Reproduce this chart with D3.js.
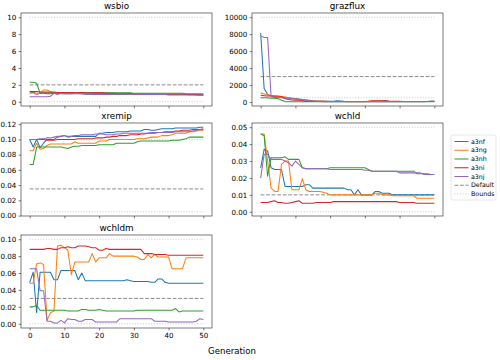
<!DOCTYPE html>
<html>
<head>
<meta charset="utf-8">
<script src="https://cdn.jsdelivr.net/npm/d3@7"></script>
<style>
  body { margin: 0; background: #fff; }
  text { font-family: "DejaVu Sans", sans-serif; fill: #000; }
</style>
</head>
<body>
<svg id="chart" width="500" height="360"></svg>
<script>
// runs (legend order) and generations 0..50
const runs = ["a3nf", "a3ng", "a3nh", "a3ni", "a3nj"];
const colors = ["#1f77b4", "#ff7f0e", "#2ca02c", "#d62728", "#9467bd"];
const params = ["wsbio", "grazflux", "xremip", "wchld", "wchldm"];

// one array per run, in the order of runs
const wsbio = [
  [1.0,1.1,0.9,1.0,1.0,0.95,0.95,1.0,1.0,0.95, 0.95,0.95,0.95,0.95,0.95,0.95,0.9,0.9,0.9,0.9, 0.9,0.9,0.9,0.9,0.9,0.9,0.9,0.9,0.9,0.9, 0.9,0.9,0.88,0.88,0.88,0.88,0.85,0.85,0.85,0.85, 0.85,0.85,0.85,0.85,0.85,0.85,0.82,0.82,0.8,0.8, 0.8],
  [1.2,1.2,0.9,1.0,1.4,1.4,1.2,1.05,1.05,1.05, 1.05,1.05,1.05,1.05,1.05,1.0,1.0,1.0,1.0,1.0, 1.0,1.0,1.0,0.95,0.95,0.95,0.95,0.95,0.95,0.95, 0.9,0.9,0.9,0.9,0.9,0.9,0.9,0.9,0.9,0.9, 0.88,0.88,0.88,0.88,0.85,0.85,0.85,0.85,0.85,0.85, 0.85],
  [2.3,2.3,2.2,1.0,1.05,1.05,1.05,1.05,1.05,1.1, 1.1,1.1,1.1,1.1,1.1,1.05,1.05,1.05,1.05,1.05, 1.05,1.05,1.05,1.05,1.05,1.05,1.05,1.05,1.05,1.05, 1.0,1.0,1.0,1.0,1.0,1.0,1.0,1.0,1.0,1.0, 1.0,1.0,1.0,1.0,1.0,0.95,0.95,0.95,0.95,0.95, 0.95],
  [1.2,1.2,1.2,1.15,1.15,1.15,1.15,1.15,1.1,1.1, 1.1,1.1,1.1,1.1,1.1,1.1,1.05,1.05,1.05,1.05, 1.05,1.05,1.0,1.0,1.0,0.95,0.95,0.95,0.95,0.95, 0.9,0.9,0.9,0.9,0.9,0.9,0.9,0.9,0.9,0.9, 0.88,0.88,0.88,0.88,0.88,0.85,0.85,0.85,0.85,0.8, 0.8],
  [0.6,0.6,0.6,0.6,0.6,0.6,0.65,1.0,0.85,1.0, 0.95,0.95,0.95,1.0,1.0,0.95,0.95,0.95,0.85,0.85, 0.85,0.85,0.85,0.85,0.9,0.9,0.9,0.9,0.9,0.9, 0.9,0.9,0.85,0.85,0.85,0.85,0.85,0.85,0.85,0.85, 0.8,0.8,0.8,0.8,0.8,0.8,0.8,0.8,0.8,0.8, 0.8]
];
const grazflux = [
  [8100,1600,900,750,650,600,600,550,500,450, 400,350,300,250,200,150,120,100,80,80, 80,100,150,120,80,60,60,60,60,60, 60,60,60,60,60,120,150,100,60,60, 60,60,60,60,60,60,60,60,60,80, 100],
  [1050,950,850,750,700,650,650,600,500,400, 350,300,250,200,150,120,100,80,80,80, 60,60,60,60,60,50,50,50,50,50, 50,80,100,100,80,60,60,60,60,60, 60,60,60,60,60,60,60,60,60,60, 60],
  [500,500,500,450,450,400,200,50,30,30, 30,30,30,30,30,30,30,30,30,30, 30,30,30,30,30,30,30,30,30,30, 30,30,30,30,30,30,30,30,30,30, 30,30,30,30,30,30,30,30,30,30, 30],
  [800,750,700,700,700,700,650,400,300,250, 200,200,150,100,100,80,80,80,80,60, 60,60,60,60,60,60,60,60,60,60, 60,100,150,150,150,150,150,100,100,80, 80,60,60,60,60,60,60,60,60,60, 60],
  [7800,7600,7600,600,550,500,500,450,450,400, 350,300,250,200,150,100,80,60,50,50, 50,50,50,50,50,50,50,50,50,50, 50,50,50,50,50,50,50,50,50,50, 50,50,50,50,50,50,50,50,60,100, 120]
];
const xremip = [
  [0.1,0.09,0.1,0.089,0.095,0.1,0.1,0.1,0.103,0.104, 0.105,0.103,0.104,0.104,0.104,0.104,0.104,0.104,0.104,0.104, 0.108,0.108,0.109,0.109,0.109,0.11,0.11,0.11,0.11,0.111, 0.111,0.111,0.111,0.113,0.113,0.112,0.112,0.113,0.114,0.114, 0.114,0.114,0.115,0.115,0.115,0.115,0.115,0.115,0.115,0.116, 0.116],
  [0.085,0.085,0.095,0.087,0.088,0.092,0.094,0.094,0.094,0.094, 0.094,0.094,0.094,0.097,0.095,0.095,0.095,0.095,0.095,0.095, 0.098,0.098,0.098,0.1,0.1,0.1,0.1,0.1,0.1,0.1, 0.1,0.101,0.101,0.101,0.102,0.103,0.103,0.103,0.105,0.105, 0.105,0.106,0.108,0.108,0.108,0.108,0.11,0.11,0.111,0.112, 0.112],
  [0.067,0.067,0.09,0.09,0.09,0.09,0.09,0.09,0.09,0.09, 0.089,0.088,0.09,0.091,0.091,0.092,0.092,0.092,0.092,0.092, 0.093,0.093,0.093,0.093,0.093,0.095,0.095,0.095,0.095,0.095, 0.095,0.097,0.098,0.098,0.098,0.098,0.098,0.098,0.098,0.098, 0.098,0.099,0.099,0.099,0.1,0.101,0.103,0.103,0.103,0.103, 0.103],
  [0.1,0.1,0.1,0.1,0.1,0.099,0.099,0.099,0.1,0.1, 0.1,0.1,0.1,0.1,0.101,0.101,0.101,0.101,0.101,0.102, 0.102,0.102,0.103,0.103,0.104,0.104,0.105,0.105,0.105,0.106, 0.106,0.106,0.107,0.107,0.108,0.108,0.108,0.109,0.109,0.11, 0.11,0.11,0.111,0.111,0.112,0.112,0.112,0.113,0.113,0.113, 0.113],
  [0.1,0.1,0.1,0.101,0.101,0.102,0.102,0.103,0.104,0.104, 0.105,0.104,0.104,0.105,0.105,0.106,0.106,0.106,0.106,0.107, 0.107,0.107,0.106,0.106,0.106,0.107,0.107,0.108,0.108,0.108, 0.108,0.108,0.108,0.108,0.108,0.109,0.109,0.109,0.109,0.109, 0.109,0.109,0.11,0.11,0.11,0.11,0.11,0.111,0.112,0.113, 0.114]
];
const wchld = [
  [0.026,0.037,0.036,0.026,0.025,0.025,0.025,0.015,0.015,0.015, 0.015,0.015,0.015,0.016,0.016,0.014,0.014,0.014,0.014,0.014, 0.014,0.014,0.014,0.014,0.014,0.013,0.013,0.010,0.013,0.010, 0.010,0.010,0.010,0.012,0.012,0.011,0.011,0.011,0.010,0.010, 0.010,0.010,0.010,0.010,0.010,0.010,0.010,0.010,0.010,0.010, 0.010],
  [0.046,0.046,0.030,0.014,0.012,0.012,0.028,0.030,0.030,0.013, 0.013,0.013,0.0196,0.013,0.012,0.012,0.012,0.012,0.0115,0.011, 0.010,0.010,0.010,0.010,0.010,0.010,0.010,0.010,0.010,0.010, 0.010,0.010,0.010,0.011,0.011,0.010,0.010,0.010,0.0095,0.0095, 0.0095,0.0095,0.0095,0.0095,0.0095,0.008,0.008,0.008,0.008,0.008, 0.008],
  [0.046,0.045,0.021,0.032,0.032,0.032,0.032,0.0325,0.031,0.031, 0.031,0.031,0.026,0.0255,0.0255,0.0255,0.0255,0.0255,0.0255,0.0255, 0.026,0.026,0.026,0.026,0.026,0.026,0.026,0.026,0.026,0.026, 0.026,0.025,0.024,0.024,0.024,0.024,0.024,0.024,0.024,0.024, 0.024,0.024,0.024,0.024,0.024,0.0225,0.0225,0.0225,0.0225,0.022, 0.022],
  [0.0055,0.0055,0.0055,0.006,0.0065,0.0055,0.0055,0.005,0.005,0.0055, 0.006,0.0065,0.005,0.005,0.005,0.005,0.0055,0.0055,0.0055,0.0055, 0.0055,0.006,0.006,0.006,0.006,0.006,0.006,0.006,0.006,0.006, 0.006,0.006,0.006,0.006,0.006,0.006,0.006,0.006,0.006,0.006, 0.0055,0.0055,0.0055,0.0055,0.0055,0.005,0.005,0.005,0.005,0.005, 0.005],
  [0.020,0.034,0.034,0.031,0.031,0.031,0.031,0.030,0.029,0.027, 0.030,0.028,0.026,0.0255,0.0255,0.0255,0.0255,0.0255,0.0255,0.0255, 0.025,0.025,0.025,0.025,0.025,0.025,0.025,0.025,0.025,0.025, 0.0245,0.0245,0.024,0.024,0.024,0.024,0.024,0.024,0.024,0.024, 0.023,0.023,0.023,0.023,0.023,0.023,0.023,0.022,0.022,0.022, 0.022]
];
const wchldm = [
  [0.0486,0.061,0.013,0.061,0.061,0.061,0.061,0.052,0.052,0.063, 0.063,0.063,0.063,0.063,0.052,0.060,0.051,0.051,0.051,0.051, 0.051,0.051,0.051,0.051,0.051,0.051,0.051,0.051,0.052,0.051, 0.050,0.050,0.050,0.050,0.050,0.049,0.049,0.053,0.053,0.049, 0.048,0.048,0.048,0.048,0.048,0.048,0.048,0.048,0.048,0.048, 0.048],
  [0.048,0.048,0.071,0.072,0.070,0.004,0.013,0.015,0.092,0.093, 0.090,0.087,0.058,0.073,0.073,0.073,0.073,0.073,0.083,0.073, 0.078,0.078,0.078,0.083,0.080,0.080,0.080,0.080,0.080,0.080, 0.080,0.079,0.076,0.076,0.082,0.078,0.082,0.079,0.079,0.079, 0.079,0.065,0.065,0.065,0.065,0.078,0.078,0.078,0.078,0.078, 0.078],
  [0.020,0.020,0.022,0.016,0.016,0.016,0.016,0.016,0.016,0.016, 0.016,0.015,0.015,0.015,0.015,0.017,0.017,0.016,0.016,0.016, 0.017,0.016,0.015,0.015,0.015,0.015,0.015,0.015,0.015,0.015, 0.015,0.016,0.016,0.016,0.016,0.016,0.016,0.016,0.016,0.016, 0.016,0.016,0.018,0.014,0.015,0.015,0.015,0.015,0.015,0.015, 0.015],
  [0.088,0.088,0.088,0.088,0.088,0.089,0.089,0.088,0.088,0.090, 0.090,0.091,0.090,0.090,0.092,0.092,0.092,0.091,0.090,0.090, 0.087,0.087,0.089,0.088,0.088,0.088,0.088,0.088,0.088,0.088, 0.088,0.088,0.088,0.083,0.083,0.083,0.082,0.082,0.082,0.082, 0.081,0.081,0.081,0.081,0.081,0.081,0.081,0.081,0.081,0.081, 0.081],
  [0.065,0.065,0.065,0.039,0.039,0.003,0.003,0.001,0.001,0.004, 0.001,0.006,0.005,0.005,0.003,0.003,0.005,0.005,0.005,0.002, 0.002,0.002,0.002,0.002,0.002,0.002,0.006,0.006,0.006,0.006, 0.006,0.006,0.006,0.006,0.006,0.006,0.003,0.003,0.003,0.003, 0.002,0.002,0.002,0.002,0.002,0.002,0.002,0.002,0.003,0.006, 0.005]
];

const defaults = [2, 3000, 0.035, 0.01, 0.03];
const lowerBounds = [0, 500, 0.005, 0, 0];
const upperBounds = [10, 10000, 0.1, 0.05, 0.1];

const yTicks = [
  [0, 2, 4, 6, 8, 10],
  [0, 2000, 4000, 6000, 8000, 10000],
  [0, 0.02, 0.04, 0.06, 0.08, 0.10, 0.12],
  [0, 0.01, 0.02, 0.03, 0.04, 0.05],
  [0, 0.02, 0.04, 0.06, 0.08, 0.10]
];
const yTickFormats = ["d", "d", ".2f", ".2f", ".2f"];
const xTicks = [0, 10, 20, 30, 40, 50];

const seriesByParam = [wsbio, grazflux, xremip, wchld, wchldm];

const svg = d3.select("#chart");
const colLeft = [21, 252];
const rowTop = [13, 123, 235];
const pw = 191, ph = 93;
const tickFont = 7.1;

const xScale = d3.scaleLinear().domain([-2.5, 52.5]);

params.forEach((name, i) => {
  const left = colLeft[i % 2];
  const top = rowTop[Math.floor(i / 2)];
  const series = seriesByParam[i];

  const allVals = series.flat().concat([defaults[i], lowerBounds[i], upperBounds[i]]);
  const [lo, hi] = d3.extent(allVals);
  const pad = (hi - lo) * 0.05;

  const x = xScale.copy().range([left, left + pw]);
  const y = d3.scaleLinear().domain([lo - pad, hi + pad]).range([top + ph, top]);

  const g = svg.append("g");

  const clipId = "clip" + i;
  g.append("clipPath").attr("id", clipId)
    .append("rect").attr("x", left).attr("y", top).attr("width", pw).attr("height", ph);

  const plot = g.append("g").attr("clip-path", `url(#${clipId})`);

  // bounds (dotted, light) and default (dashed, grey)
  [lowerBounds[i], upperBounds[i]].forEach(b => {
    plot.append("line")
      .attr("x1", x(0)).attr("x2", x(50))
      .attr("y1", y(b)).attr("y2", y(b))
      .attr("stroke", "#c8c8c8").attr("stroke-width", 1)
      .attr("stroke-dasharray", "1,1.7");
  });
  plot.append("line")
    .attr("x1", x(0)).attr("x2", x(50))
    .attr("y1", y(defaults[i])).attr("y2", y(defaults[i]))
    .attr("stroke", "#8c8c8c").attr("stroke-width", 1)
    .attr("stroke-dasharray", "3.8,1.7");

  const line = d3.line().x((d, k) => x(k)).y(d => y(d));
  series.forEach((s, r) => {
    plot.append("path")
      .attr("d", line(s))
      .attr("fill", "none")
      .attr("stroke", colors[r])
      .attr("stroke-width", 1.05)
      .attr("stroke-linejoin", "round");
  });

  // axes
  const yAxis = d3.axisLeft(y).tickValues(yTicks[i])
    .tickFormat(d3.format(yTickFormats[i])).tickSize(2.4).tickPadding(2.4);
  const xAxis = d3.axisBottom(x).tickValues(xTicks).tickSize(2.4).tickPadding(2.4);
  if (i !== 4) xAxis.tickFormat("");

  const ya = g.append("g").attr("transform", `translate(${left},0)`).call(yAxis);
  const xa = g.append("g").attr("transform", `translate(0,${top + ph})`).call(xAxis);
  [ya, xa].forEach(a => {
    a.select(".domain").remove();
    a.selectAll("line").attr("stroke", "#222").attr("stroke-width", 0.6);
    a.selectAll("text").attr("font-size", tickFont).attr("fill", "#222")
      .style("font-family", "DejaVu Sans, sans-serif");
  });

  g.append("rect")
    .attr("x", left).attr("y", top).attr("width", pw).attr("height", ph)
    .attr("fill", "none").attr("stroke", "#222").attr("stroke-width", 0.6);

  g.append("text")
    .attr("x", left + pw / 2).attr("y", top - 4)
    .attr("text-anchor", "middle")
    .attr("font-size", 8.8)
    .text(name);
});

svg.append("text")
  .attr("x", 232).attr("y", 354)
  .attr("text-anchor", "middle")
  .attr("font-size", 8.6)
  .text("Generation");

// legend
const legendItems = runs.map((r, k) => ({ label: r, color: colors[k], dash: null }))
  .concat([
    { label: "Default", color: "#8c8c8c", dash: "3.8,1.7" },
    { label: "Bounds", color: "#c8c8c8", dash: "1,1.7" }
  ]);

const lg = svg.append("g").attr("transform", "translate(451,135)");
lg.append("rect")
  .attr("width", 45).attr("height", 65).attr("rx", 2)
  .attr("fill", "#fff").attr("stroke", "#d6d6d6").attr("stroke-width", 0.6);

const item = lg.selectAll("g.item").data(legendItems).enter()
  .append("g").attr("class", "item")
  .attr("transform", (d, k) => `translate(0,${6.5 + k * 8.75})`);
item.append("line")
  .attr("x1", 3.5).attr("x2", 17.5)
  .attr("stroke", d => d.color).attr("stroke-width", 1.05)
  .attr("stroke-dasharray", d => d.dash);
item.append("text")
  .attr("x", 20).attr("y", 2.2)
  .attr("font-size", 6.3)
  .text(d => d.label);
</script>
</body>
</html>
